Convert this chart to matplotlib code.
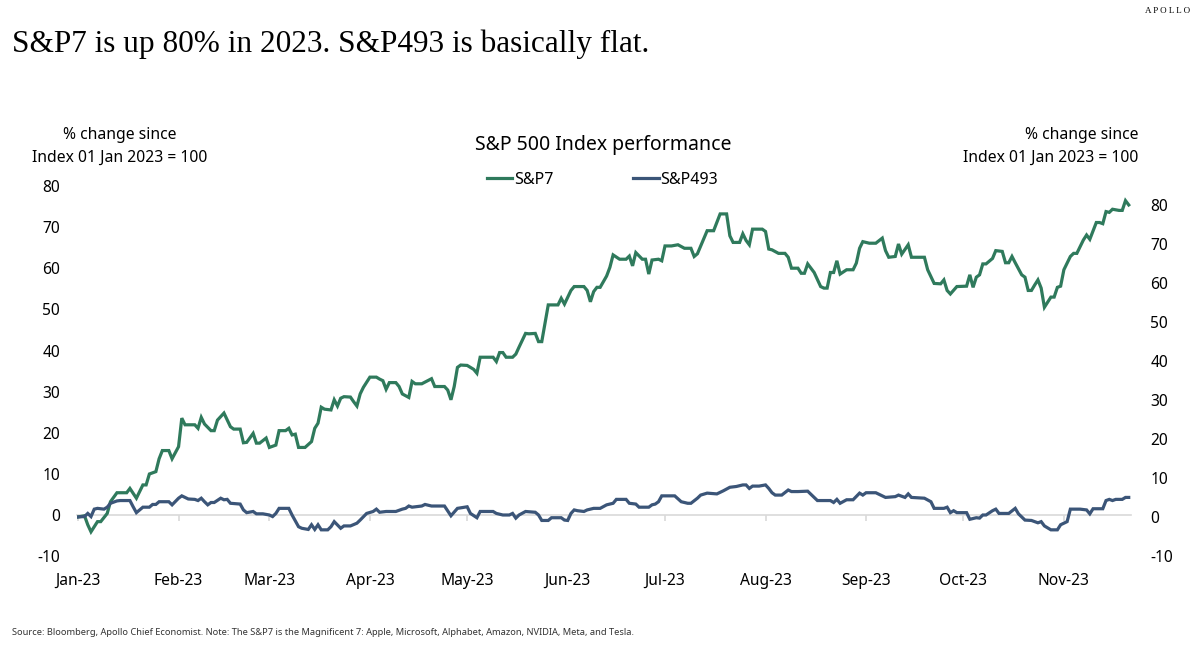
import matplotlib
matplotlib.use('Agg')
import matplotlib.pyplot as plt
import pandas as pd

# ---- data (day offset from 2023-01-01, % change) ----
sp7_day = [0, 2, 3, 4, 6, 7, 9, 10, 12, 15, 16, 18, 20, 21, 22, 24, 25, 26, 28, 29,
           31, 32, 33, 36, 37, 38, 39, 41, 42, 43, 45, 47, 48, 50, 51, 52, 54, 55, 56, 58,
           59, 61, 62, 64, 65, 66, 67, 68, 70, 72, 73, 74, 75, 76, 78, 79, 80, 81, 82, 84,
           85, 86, 87, 88, 90, 92, 93, 94, 95, 96, 98, 99, 100, 102, 103, 104, 106, 109, 110, 113,
           114, 115, 116, 117, 118, 120, 122, 123, 124, 128, 129, 130, 131, 132, 134, 135, 136, 138, 139, 141,
           142, 143, 145, 147, 148, 149, 150, 152, 153, 156, 157, 158, 159, 160, 161, 163, 164, 165, 167, 169,
           170, 171, 172, 174, 175, 176, 177, 179, 180, 181, 183, 185, 187, 189, 190, 191, 194, 196, 198, 200,
           201, 202, 204, 205, 206, 207, 208, 211, 212, 213, 214, 216, 218, 219, 220, 222, 223, 224, 225, 227,
           229, 230, 231, 232, 233, 234, 235, 237, 239, 240, 241, 242, 244, 246, 248, 249, 250, 252, 253, 254,
           256, 257, 261, 262, 264, 266, 267, 268, 269, 271, 274, 275, 276, 277, 278, 279, 280, 282, 283, 285,
           286, 287, 288, 289, 291, 292, 293, 294, 295, 296, 297, 298, 300, 301, 302, 303, 304, 306, 307, 308,
           310, 311, 312, 314, 315, 316, 317, 318, 319, 321, 322, 323, 324]
sp7_val = [0.0, 0.3, -2.0, -3.8, -1.2, -1.2, 0.9, 3.9, 6.2, 6.2, 7.3, 4.8, 8.2, 8.2, 11.0, 11.6, 14.9, 17.0, 17.0, 14.9,
           18.0, 25.3, 23.6, 23.6, 22.7, 25.5, 23.8, 22.1, 22.1, 24.8, 26.6, 23.1, 22.5, 22.5, 19.0, 19.1, 21.4, 18.9, 18.9, 20.2,
           17.8, 18.4, 22.1, 22.1, 22.7, 21.0, 21.2, 17.8, 17.8, 19.3, 22.7, 24.0, 28.1, 27.6, 27.4, 30.0, 28.4, 30.4, 30.8, 30.7,
           29.5, 28.4, 31.5, 33.2, 35.8, 35.8, 35.3, 34.9, 32.7, 34.4, 34.4, 33.4, 31.5, 30.6, 34.7, 34.1, 34.1, 35.4, 33.4, 33.4,
           32.5, 30.0, 33.4, 38.3, 38.9, 38.8, 37.8, 36.8, 40.9, 40.9, 39.8, 42.1, 42.1, 40.9, 40.9, 41.7, 43.5, 47.0, 46.9, 47.0,
           44.9, 44.9, 54.3, 54.3, 54.3, 56.0, 54.5, 58.0, 59.0, 59.0, 58.0, 55.1, 57.7, 58.8, 58.8, 61.7, 63.9, 67.1, 66.0, 66.0,
           66.8, 64.3, 67.7, 66.0, 66.0, 62.2, 65.8, 66.0, 65.6, 69.4, 69.4, 69.7, 68.8, 68.8, 66.7, 67.4, 73.3, 73.3, 77.6, 77.6,
           72.0, 70.3, 70.3, 72.5, 70.8, 69.7, 73.7, 73.7, 73.1, 68.6, 68.4, 67.5, 67.5, 66.5, 63.7, 63.7, 62.4, 62.4, 64.8, 62.6,
           59.0, 58.6, 58.6, 62.6, 62.6, 65.6, 62.2, 63.3, 63.3, 65.0, 68.8, 70.5, 70.1, 70.1, 71.4, 68.2, 66.5, 66.7, 69.9, 67.3,
           69.7, 66.5, 66.5, 63.3, 59.8, 59.7, 60.7, 58.0, 57.1, 59.0, 59.1, 62.0, 58.8, 61.4, 62.0, 64.8, 64.8, 66.2, 68.2, 68.0,
           65.1, 65.1, 66.7, 65.1, 62.0, 61.4, 58.0, 58.0, 59.4, 60.7, 58.6, 53.7, 56.3, 56.3, 58.8, 59.1, 63.3, 66.7, 67.5, 67.5,
           70.9, 72.2, 71.1, 75.4, 75.4, 75.1, 78.2, 78.0, 78.8, 78.5, 78.5, 81.0, 79.9]

sp493_day = [0, 2, 3, 4, 5, 6, 8, 9, 10, 12, 13, 16, 17, 18, 20, 22, 23, 24, 25, 28,
             29, 31, 32, 34, 36, 37, 38, 39, 40, 41, 42, 44, 45, 46, 47, 50, 51, 52, 54, 55,
             57, 59, 60, 61, 62, 65, 66, 68, 69, 71, 72, 73, 74, 75, 77, 78, 79, 81, 82, 84,
             86, 87, 89, 91, 92, 93, 95, 98, 100, 101, 102, 103, 106, 107, 109, 113, 115, 117, 120, 121,
             123, 124, 128, 129, 131, 133, 134, 135, 136, 138, 141, 142, 143, 145, 146, 149, 150, 151, 152, 153,
             154, 156, 157, 159, 161, 163, 164, 165, 166, 169, 170, 172, 173, 176, 177, 178, 179, 180, 184, 186,
             188, 189, 191, 192, 194, 197, 199, 201, 203, 205, 206, 207, 208, 210, 212, 213, 214, 215, 217, 219,
             220, 222, 225, 227, 228, 232, 233, 234, 235, 237, 239, 241, 242, 243, 246, 248, 249, 252, 253, 255,
             256, 257, 261, 263, 264, 267, 268, 269, 270, 271, 274, 275, 277, 278, 279, 280, 282, 283, 284, 287,
             289, 290, 292, 294, 296, 297, 298, 300, 302, 303, 305, 306, 309, 311, 312, 313, 316, 317, 318, 319,
             320, 322, 323, 324]
sp493_val = [0.0, 0.1, 0.9, 0.1, 2.0, 2.2, 2.0, 2.5, 3.5, 4.1, 4.2, 4.2, 2.6, 1.1, 2.5, 2.5, 3.2, 3.2, 3.9, 3.9,
             3.1, 4.8, 5.4, 4.6, 4.5, 4.2, 4.8, 3.9, 3.1, 3.7, 3.7, 4.8, 4.4, 4.5, 3.5, 3.3, 1.8, 1.1, 1.4, 0.8,
             0.8, 0.5, 0.1, 0.9, 2.2, 2.2, 0.5, -2.5, -2.9, -3.2, -2.0, -3.2, -2.0, -3.3, -3.3, -2.5, -1.2, -2.9, -2.3, -2.3,
             -1.6, -0.8, 0.9, 1.4, 2.0, 1.2, 1.4, 1.4, 2.0, 2.2, 2.8, 2.5, 2.8, 3.2, 2.8, 2.8, 0.3, 2.2, 2.6, 0.9,
             -0.2, 1.4, 1.4, 0.9, 0.5, 0.5, 0.9, -0.3, 0.5, 1.4, 1.2, 0.5, -0.9, -0.9, -0.2, -0.2, -0.8, -0.9, 0.9, 1.8,
             1.6, 1.4, 1.8, 2.2, 2.2, 3.1, 3.3, 3.5, 4.5, 4.5, 3.5, 3.3, 2.5, 2.5, 3.1, 3.3, 3.9, 5.4, 5.4, 3.9,
             3.5, 3.5, 4.8, 5.6, 6.1, 5.9, 6.7, 7.6, 7.8, 8.2, 8.2, 7.3, 7.9, 7.9, 8.2, 7.3, 6.2, 5.6, 5.6, 6.9,
             6.5, 6.5, 6.6, 5.0, 4.2, 4.2, 3.7, 4.5, 3.5, 4.4, 4.4, 6.1, 5.6, 6.2, 6.2, 5.4, 5.0, 5.2, 5.6, 5.0,
             5.9, 5.0, 4.8, 3.9, 2.2, 2.2, 2.5, 1.1, 1.6, 1.1, 1.1, -0.6, -0.2, -0.3, 0.5, 0.5, 1.6, 2.0, 0.9, 0.9,
             2.2, 0.8, -0.8, -0.9, -1.5, -1.2, -2.3, -3.3, -3.3, -2.0, -1.2, 2.0, 2.0, 1.8, 0.8, 2.1, 2.1, 4.2, 4.5, 4.2,
             4.5, 4.5, 5.0, 5.0]

month_labels = ['Jan-23', 'Feb-23', 'Mar-23', 'Apr-23', 'May-23', 'Jun-23',
                'Jul-23', 'Aug-23', 'Sep-23', 'Oct-23', 'Nov-23']
month_starts = ['2023-01-01', '2023-02-01', '2023-03-01', '2023-04-01', '2023-05-01', '2023-06-01',
                '2023-07-01', '2023-08-01', '2023-09-01', '2023-10-01', '2023-11-01']
y_ticks = [-10, 0, 10, 20, 30, 40, 50, 60, 70, 80]

GREEN = '#2f7a5c'
BLUE = '#3b5578'
SANS = ['Noto Sans', 'DejaVu Sans']
SERIF = ['Liberation Serif', 'DejaVu Serif']

base = pd.Timestamp('2023-01-01')
sp7_dates = base + pd.to_timedelta(sp7_day, unit='D')
sp493_dates = base + pd.to_timedelta(sp493_day, unit='D')
tick_dates = pd.to_datetime(month_starts)

fig = plt.figure(figsize=(12, 6.59), dpi=100)
ax = fig.add_axes([0.0639, 0.1563, 0.8786, 0.5736])
ax2 = ax.twinx()

ax.set_xlim(base - pd.Timedelta(hours=10), base + pd.Timedelta(days=324.7))
ax.set_ylim(-10, 82)
ax2.set_ylim(-10, 86.8)

for a in (ax, ax2):
    for s in ('top', 'left', 'right', 'bottom'):
        a.spines[s].set_visible(False)

ax.spines['bottom'].set_visible(True)
ax.spines['bottom'].set_position(('data', 0))
ax.spines['bottom'].set_color('#d9d9d9')
ax.spines['bottom'].set_linewidth(1.2)

ax.set_xticks(tick_dates)
ax.set_xticklabels(month_labels, fontsize=11.2, family=SANS)
ax.tick_params(axis='x', direction='out', length=4, width=1.2, color='#d9d9d9', pad=38)

ax.set_yticks(y_ticks)
ax.set_yticklabels([str(t) for t in y_ticks], fontsize=11.2, family=SANS)
ax.tick_params(axis='y', length=0, pad=12)

ax2.set_yticks(y_ticks)
ax2.set_yticklabels([str(t) for t in y_ticks], fontsize=11.2, family=SANS)
ax2.tick_params(axis='y', length=0, pad=14)

l1, = ax2.plot(sp7_dates, sp7_val, color=GREEN, lw=2.3, label='S&P7', solid_joinstyle='miter')
l2, = ax2.plot(sp493_dates, sp493_val, color=BLUE, lw=2.3, label='S&P493', solid_joinstyle='miter')

leg = fig.legend(handles=[l1, l2], loc='center', bbox_to_anchor=(0.502, 0.727), ncol=2,
                 frameon=False, prop={'family': SANS, 'size': 11.5}, handlelength=1.6,
                 handletextpad=0.1, columnspacing=5.0)

fig.text(0.503, 0.78, 'S&P 500 Index performance', ha='center', va='center',
         fontsize=14, family=SANS)
fig.text(0.1, 0.795, '% change since', ha='center', va='center', fontsize=11.3, family=SANS)
fig.text(0.1, 0.761, 'Index 01 Jan 2023 = 100', ha='center', va='center', fontsize=11.3, family=SANS)
fig.text(0.949, 0.795, '% change since', ha='right', va='center', fontsize=11.3, family=SANS)
fig.text(0.949, 0.761, 'Index 01 Jan 2023 = 100', ha='right', va='center', fontsize=11.3, family=SANS)

fig.text(0.01, 0.933, 'S&P7 is up 80% in 2023. S&P493 is basically flat.', ha='left', va='center',
         fontsize=22.5, family=SERIF)
fig.text(0.992, 0.983, 'A P O L L O', ha='right', va='center', fontsize=6.5, family=SERIF)
fig.text(0.01, 0.04, 'Source: Bloomberg, Apollo Chief Economist. Note: The S&P7 is the Magnificent 7: Apple, '
         'Microsoft, Alphabet, Amazon, NVIDIA, Meta, and Tesla.', ha='left', va='center',
         fontsize=6.7, family=SANS, color='#333333')

fig.savefig('out.png', dpi=100)
